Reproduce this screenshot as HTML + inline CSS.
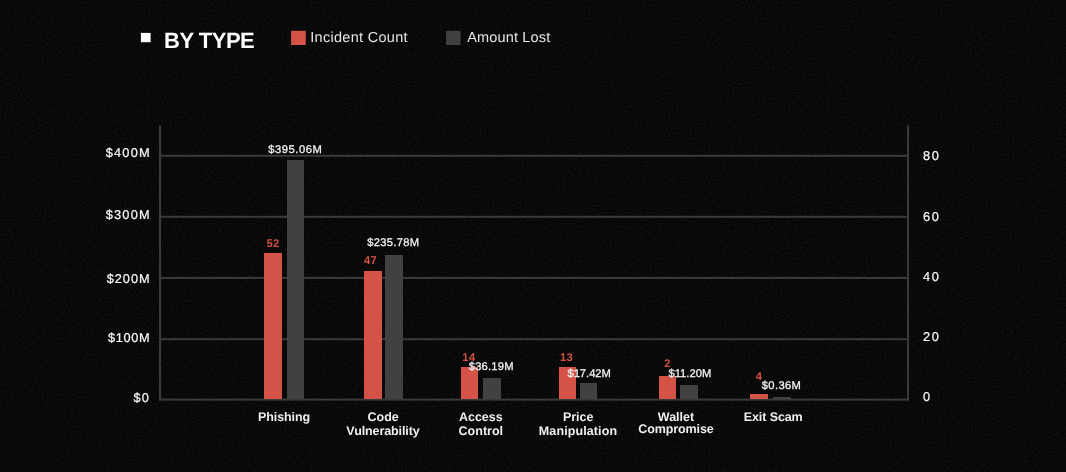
<!DOCTYPE html>
<html lang="en">
<head>
<meta charset="utf-8">
<title>By Type</title>
<style>
html,body{margin:0;padding:0;background:#040404;}
body{width:1066px;height:472px;position:relative;overflow:hidden;font-family:"Liberation Sans",sans-serif;color:#fff;}
.abs{position:absolute;}
.noise{position:absolute;left:0;top:0;width:1066px;height:472px;pointer-events:none;}
.t{position:absolute;white-space:nowrap;line-height:1;text-rendering:geometricPrecision;}
.title{font-weight:bold;font-size:22px;letter-spacing:-0.5px;color:#fff;}
.leg{font-size:14.5px;letter-spacing:0.16px;color:#e6e6e6;}
.yl{font-size:12.8px;letter-spacing:1.05px;color:#f8f8f8;-webkit-text-stroke:0.22px #f8f8f8;}
.yr{font-size:12.8px;letter-spacing:1.6px;color:#f8f8f8;-webkit-text-stroke:0.22px #f8f8f8;}
.xl{font-size:12.5px;font-weight:bold;letter-spacing:0;color:#f0f0f0;text-align:center;transform:translateX(-50%);white-space:nowrap;}
.dv{font-size:11.2px;letter-spacing:0.4px;color:#f4f4f4;-webkit-text-stroke:0.28px #f4f4f4;transform:translateX(-50%);}
.dc{font-size:11.2px;font-weight:bold;letter-spacing:0.3px;color:#d55246;transform:translateX(-50%);}
.r{position:absolute;background:#d55246;}
.g{position:absolute;background:#414141;}
</style>
</head>
<body>
<svg class="noise" width="1066" height="472" viewBox="0 0 1066 472" aria-hidden="true">
  <filter id="grain" x="0" y="0" width="100%" height="100%" color-interpolation-filters="sRGB">
    <feTurbulence type="fractalNoise" baseFrequency="0.55" numOctaves="2" seed="7" stitchTiles="stitch" result="t"/>
    <feColorMatrix in="t" type="matrix" values="0 0 0 0 1  0 0 0 0 1  0 0 0 0 1  0.055 0.055 0.055 0 -0.062"/>
  </filter>
  <rect x="0" y="0" width="1066" height="472" filter="url(#grain)"/>
</svg>
<!-- header -->
<svg class="abs" style="left:0;top:0;" width="1066" height="60" viewBox="0 0 1066 60" aria-hidden="true">
  <rect x="140.9" y="32.9" width="9.7" height="9.3" fill="#ffffff"/>
  <rect x="291.1" y="30.8" width="14.7" height="14.2" fill="#d55246"/>
  <rect x="446.1" y="30.8" width="14.5" height="14.2" fill="#404040"/>
</svg>
<div class="t title" id="title" style="left:164px;top:30px;">BY TYPE</div>
<div class="t leg" id="leg1" style="left:310.2px;top:30.5px;letter-spacing:0.3px;">Incident Count</div>
<div class="t leg" id="leg2" style="left:467.2px;top:30.5px;">Amount Lost</div>

<!-- grid -->
<svg class="abs" style="left:0;top:0;" width="1066" height="472" viewBox="0 0 1066 472" aria-hidden="true">
  <g fill="#3a3a3a">
    <rect x="160" y="154.8" width="748" height="2"/>
    <rect x="160" y="215.8" width="748" height="2"/>
    <rect x="160" y="276.9" width="748" height="2"/>
    <rect x="160" y="338.2" width="748" height="2"/>
    <rect x="159" y="398.6" width="750" height="2"/>
    <rect x="159" y="125.4" width="2.1" height="275.2"/>
    <rect x="907" y="125.3" width="2" height="275.3"/>
  </g>
</svg>

<!-- bars -->
<div class="r" style="left:264px;width:18px;top:253px;height:146px;"></div>
<div class="g" style="left:287px;width:17px;top:160px;height:239px;"></div>
<div class="r" style="left:364px;width:18px;top:271px;height:128px;"></div>
<div class="g" style="left:385px;width:18px;top:255px;height:144px;"></div>
<div class="r" style="left:461px;width:17px;top:367px;height:32px;"></div>
<div class="g" style="left:483px;width:18px;top:378px;height:21px;"></div>
<div class="r" style="left:559px;width:17px;top:367px;height:32px;"></div>
<div class="g" style="left:580px;width:17px;top:383px;height:16px;"></div>
<div class="r" style="left:659px;width:17px;top:376px;height:23px;"></div>
<div class="g" style="left:680px;width:18px;top:385px;height:14px;"></div>
<div class="r" style="left:750px;width:18px;top:394px;height:5px;"></div>
<div class="g" style="left:773px;width:18px;top:397px;height:2px;"></div>

<!-- left axis labels -->
<div class="t yl" id="yl4" style="right:915.15px;top:147px;letter-spacing:1.2px;">$400M</div>
<div class="t yl" id="yl3" style="right:915.15px;top:209px;letter-spacing:1.2px;">$300M</div>
<div class="t yl" id="yl2" style="right:915.35px;top:273px;letter-spacing:0.97px;">$200M</div>
<div class="t yl" id="yl1" style="right:915.65px;top:332px;letter-spacing:0.65px;">$100M</div>
<div class="t yl" id="yl0" style="right:916.1px;top:392px;">$0</div>

<!-- right axis labels -->
<div class="t yr" id="yr4" style="left:923px;top:150px;">80</div>
<div class="t yr" id="yr3" style="left:923px;top:211px;">60</div>
<div class="t yr" id="yr2" style="left:923px;top:271px;">40</div>
<div class="t yr" id="yr1" style="left:923px;top:331px;">20</div>
<div class="t yr" id="yr0" style="left:923px;top:391px;">0</div>

<!-- data labels -->
<div class="t dv" id="dv1" style="left:295.35px;top:145px;letter-spacing:0.53px;">$395.06M</div>
<div class="t dc" id="dc1" style="left:273px;top:239px;">52</div>
<div class="t dv" id="dv2" style="left:393.35px;top:238.3px;letter-spacing:0.32px;">$235.78M</div>
<div class="t dc" id="dc2" style="left:370.5px;top:256px;">47</div>
<div class="t dc" id="dc3" style="left:468.9px;top:353px;">14</div>
<div class="t dv" id="dv3" style="left:491.25px;top:362px;letter-spacing:0.22px;">$36.19M</div>
<div class="t dc" id="dc4" style="left:566.6px;top:353px;">13</div>
<div class="t dv" id="dv4" style="left:589.15px;top:368.6px;letter-spacing:-0.03px;">$17.42M</div>
<div class="t dc" id="dc5" style="left:667.6px;top:359px;">2</div>
<div class="t dv" id="dv5" style="left:689.85px;top:369px;letter-spacing:0.02px;">$11.20M</div>
<div class="t dc" id="dc6" style="left:759px;top:372px;">4</div>
<div class="t dv" id="dv6" style="left:781.55px;top:381px;letter-spacing:0.37px;">$0.36M</div>

<!-- x labels -->
<div class="t xl" id="xl1" style="left:284px;top:411px;letter-spacing:-0.1px;">Phishing</div>
<div class="t xl" id="xl2a" style="left:383.2px;top:411px;">Code</div>
<div class="t xl" id="xl2b" style="left:383px;top:424.5px;letter-spacing:-0.1px;">Vulnerability</div>
<div class="t xl" id="xl3a" style="left:480.8px;top:411px;">Access</div>
<div class="t xl" id="xl3b" style="left:480.8px;top:424.5px;">Control</div>
<div class="t xl" id="xl4a" style="left:578.2px;top:411px;">Price</div>
<div class="t xl" id="xl4b" style="left:578px;top:424.5px;letter-spacing:0.1px;">Manipulation</div>
<div class="t xl" id="xl5a" style="left:676px;top:411px;">Wallet</div>
<div class="t xl" id="xl5b" style="left:676px;top:422.5px;letter-spacing:-0.1px;">Compromise</div>
<div class="t xl" id="xl6" style="left:773.2px;top:411px;letter-spacing:-0.1px;">Exit Scam</div>
</body>
</html>
